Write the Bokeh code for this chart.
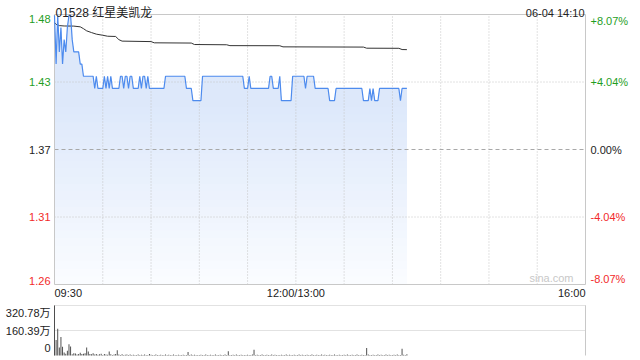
import numpy as np
from bokeh.plotting import figure
from bokeh.models import Range1d, Label
from bokeh.layouts import column
from bokeh.embed import file_html
from bokeh.resources import INLINE

# ---------------- data ----------------
title_text = "01528 红星美凯龙"
stamp_text = "06-04 14:10"
prev_close = 1.37
price_ticks = [1.4806, 1.4253, 1.37, 1.3147, 1.2594]
price_tick_labels = ["1.48", "1.43", "1.37", "1.31", "1.26"]
pct_tick_labels = ["+8.07%", "+4.04%", "0.00%", "-4.04%", "-8.07%"]
time_tick_minutes = [0, 150, 330]
time_tick_labels = ["09:30", "12:00/13:00", "16:00"]
grid_minutes = [30, 60, 90, 120, 150, 180, 210, 240, 270, 300]
vol_ticks = [320.78, 160.39, 0]
vol_tick_labels = ["320.78万", "160.39万", "0"]
watermark = "sina.com"

# last price per minute (09:30 onward)
price = [
    1.48, 1.44, 1.48, 1.45, 1.47, 1.44, 1.46, 1.45, 1.47, 1.48,
    1.48, 1.46, 1.45, 1.45, 1.45, 1.45, 1.44, 1.44, 1.43, 1.43,
    1.43, 1.43, 1.43, 1.43, 1.43, 1.42, 1.43, 1.42, 1.42, 1.42,
    1.42, 1.43, 1.42, 1.43, 1.42, 1.43, 1.42, 1.42, 1.42, 1.42,
    1.42, 1.43, 1.43, 1.42, 1.43, 1.43, 1.42, 1.43, 1.43, 1.42,
    1.42, 1.42, 1.42, 1.43, 1.42, 1.43, 1.43, 1.42, 1.43, 1.42,
    1.42, 1.42, 1.42, 1.42, 1.42, 1.42, 1.42, 1.42, 1.42, 1.43,
    1.43, 1.43, 1.43, 1.43, 1.43, 1.43, 1.43, 1.43, 1.43, 1.43,
    1.43, 1.43, 1.42, 1.42, 1.42, 1.42, 1.41, 1.41, 1.41, 1.41,
    1.41, 1.41, 1.43, 1.43, 1.43, 1.43, 1.43, 1.43, 1.43, 1.43,
    1.43, 1.43, 1.43, 1.43, 1.43, 1.43, 1.43, 1.43, 1.43, 1.43,
    1.43, 1.43, 1.43, 1.43, 1.43, 1.43, 1.43, 1.43, 1.42, 1.42,
    1.42, 1.43, 1.42, 1.42, 1.42, 1.42, 1.42, 1.42, 1.42, 1.42,
    1.42, 1.42, 1.42, 1.42, 1.43, 1.43, 1.42, 1.42, 1.42, 1.42,
    1.43, 1.41, 1.41, 1.41, 1.41, 1.41, 1.41, 1.41, 1.43, 1.43,
    1.43, 1.43, 1.43, 1.43, 1.43, 1.43, 1.42, 1.43, 1.43, 1.43,
    1.43, 1.43, 1.42, 1.42, 1.42, 1.42, 1.42, 1.42, 1.42, 1.42,
    1.42, 1.41, 1.41, 1.41, 1.41, 1.42, 1.42, 1.42, 1.42, 1.42,
    1.42, 1.42, 1.42, 1.42, 1.42, 1.42, 1.42, 1.42, 1.42, 1.42,
    1.42, 1.42, 1.41, 1.41, 1.41, 1.41, 1.42, 1.41, 1.42, 1.41,
    1.41, 1.41, 1.42, 1.42, 1.42, 1.42, 1.42, 1.42, 1.42, 1.42,
    1.42, 1.42, 1.42, 1.42, 1.42, 1.41, 1.42, 1.42, 1.42, 1.42,
]

# average price line, read at its turning points
avg_minutes = [0, 1, 3, 6, 12, 16, 18, 20, 23, 26, 30, 33, 38, 40, 42,
               60, 62, 85, 87, 107, 109, 140, 142, 192, 194, 214, 216, 219]
avg_values = [1.4740, 1.4725, 1.4715, 1.4712, 1.4711, 1.4705, 1.4690, 1.4672,
              1.4658, 1.4645, 1.4636, 1.4628, 1.4626, 1.4600, 1.4588, 1.4584,
              1.4574, 1.4572, 1.4560, 1.4558, 1.4551, 1.4550, 1.4541, 1.4539,
              1.4530, 1.4529, 1.4519, 1.4518]

# volume per minute, in 万 shares
volume = [
    320.78, 100, 172, 52, 118, 56, 20, 12, 30, 72,
    57, 8, 14, 13, 6, 10, 18, 9, 12, 14,
    52, 25, 10, 8, 14, 6, 10, 5, 8, 12,
    4, 9, 6, 5, 25, 8, 4, 6, 10, 33,
    6, 4, 8, 3, 5, 7, 4, 6, 3, 5,
    4, 3, 6, 4, 5, 3, 7, 4, 3, 10,
    5, 3, 4, 6, 3, 4, 5, 3, 4, 6,
    3, 5, 4, 3, 6, 4, 3, 5, 4, 3,
    5, 4, 3, 22, 4, 6, 3, 5, 4, 3,
    4, 5, 3, 4, 6, 3, 4, 5, 3, 4,
    6, 3, 4, 5, 3, 4, 6, 3, 28, 4,
    3, 5, 4, 6, 3, 4, 5, 3, 4, 3,
    5, 4, 3, 6, 37, 4, 5, 3, 4, 6,
    3, 4, 5, 3, 4, 6, 3, 5, 4, 3,
    4, 5, 3, 4, 6, 3, 5, 4, 3, 5,
    4, 3, 6, 4, 5, 3, 4, 5, 3, 4,
    6, 3, 4, 5, 3, 4, 6, 3, 5, 4,
    3, 5, 4, 3, 6, 4, 3, 5, 4, 3,
    5, 4, 6, 3, 4, 5, 3, 4, 6, 3,
    4, 5, 3, 4, 48, 6, 3, 4, 5, 3,
    4, 6, 3, 5, 4, 3, 6, 4, 5, 3,
    4, 5, 3, 6, 4, 3, 44, 5, 4, 8,
]

# ---------------- style ----------------
FONT = "'Liberation Sans', Arial, 'Noto Sans CJK SC', sans-serif"
GREEN = "#1f9e1f"
RED = "#f22a2a"
DARK = "#222222"
label_colors = [GREEN, GREEN, DARK, RED, RED]
BORDER = "#c8c8c8"
GRID = "#c4c4c4"
LINE_BLUE = "#4d8bee"

W = 640
PAD_L, PAD_R = 54, 55           # frame margins in px
P_H, P_TOP, P_BOT = 300, 14, 16  # price panel
V_H, V_TOP, V_BOT = 60, 5, 5     # volume panel

minutes = np.arange(len(price))
y_hi, y_lo = price_ticks[0], price_ticks[-1]
x_end = time_tick_minutes[-1]

ppx = (W - PAD_L - PAD_R) / x_end
x_rng = (-PAD_L / ppx, x_end + PAD_R / ppx)
ppy = (P_H - P_TOP - P_BOT) / (y_hi - y_lo)
y_rng = (y_lo - P_BOT / ppy, y_hi + P_TOP / ppy)
ppv = (V_H - V_TOP - V_BOT) / vol_ticks[0]
v_rng = (-V_BOT / ppv, vol_ticks[0] + V_TOP / ppv)


def make_fig(h, yr):
    f = figure(width=W, height=h, output_backend="svg", toolbar_location=None,
               x_axis_type=None, y_axis_type=None, title=None,
               x_range=Range1d(*x_rng), y_range=Range1d(*yr),
               min_border=0, min_border_left=0, min_border_right=0,
               min_border_top=0, min_border_bottom=0)
    f.outline_line_color = None
    f.background_fill_color = "white"
    f.border_fill_color = "white"
    f.xgrid.visible = False
    f.ygrid.visible = False
    return f


def lab(f, x, y, text, color=DARK, align="left", base="middle",
        dx=0, dy=0, size="11px"):
    f.add_layout(Label(x=x, y=y, text=text, x_offset=dx, y_offset=dy,
                       text_align=align, text_baseline=base, text_color=color,
                       text_font=FONT, text_font_size=size))


# ---------------- price panel ----------------
p = make_fig(P_H, y_rng)

# gradient-like fill under the price line: opaque bands, lighter towards bottom
top_rgb = np.array([218, 230, 250])
bot_rgb = np.array([250, 252, 255])
levels = np.linspace(y_lo, 1.405, 24)
for lvl in levels:
    f = (lvl - y_lo) / (y_hi - y_lo)
    c = bot_rgb + (top_rgb - bot_rgb) * min(1.0, f / 0.72)
    col = "#%02x%02x%02x" % tuple(int(round(k)) for k in c)
    p.varea(x=minutes, y1=lvl, y2=price, fill_color=col, fill_alpha=1.0)

p.segment(x0=grid_minutes, y0=y_lo, x1=grid_minutes, y1=y_hi,
          line_color=GRID, line_width=1, line_dash="1 2")
other = [t for t in price_ticks[1:-1] if t != prev_close]
p.segment(x0=0, y0=other, x1=x_end, y1=other, line_color=GRID,
          line_width=1, line_dash="1 2")
p.segment(x0=0, y0=prev_close, x1=x_end, y1=prev_close, line_color="#a8a8a8",
          line_width=1, line_dash="4 3")
p.quad(left=0, right=x_end, bottom=y_lo, top=y_hi, fill_color=None,
       line_color=BORDER, line_width=1)

p.line(avg_minutes, avg_values, line_color="#333333", line_width=1)
p.line(minutes, price, line_color=LINE_BLUE, line_width=1.2)

n = len(price_ticks)
for i, (t, tl, pl, c) in enumerate(zip(price_ticks, price_tick_labels,
                                        pct_tick_labels, label_colors)):
    base = "top" if i == 0 else ("bottom" if i == n - 1 else "middle")
    lab(p, 0, t, tl, c, "right", base, dx=-4)
    lab(p, x_end, t, pl, c, "left", base, dx=5)

for m, tl, al in zip(time_tick_minutes, time_tick_labels,
                     ["left", "center", "right"]):
    lab(p, m, y_lo, tl, DARK, al, "top", dy=-2)

lab(p, 0, y_hi, title_text, DARK, "left", "alphabetic", dx=1, dy=2, size="12px")
lab(p, x_end, y_hi, stamp_text, DARK, "right", "alphabetic", dx=-1, dy=2)
lab(p, x_end, y_lo, watermark, "#c8c8c8", "right", "bottom", dx=-12, dy=1)

# ---------------- volume panel ----------------
v = make_fig(V_H, v_rng)
v.segment(x0=0, y0=vol_ticks[:-1], x1=x_end, y1=vol_ticks[:-1],
          line_color=GRID, line_width=1, line_dash="1 1")
v.segment(x0=[0, x_end], y0=0, x1=[0, x_end], y1=vol_ticks[0],
          line_color=BORDER, line_width=1)
v.vbar(x=minutes, top=volume, bottom=0, width=0.6, fill_color="#4a4a4a",
       line_color=None)

nv = len(vol_ticks)
for i, (t, tl) in enumerate(zip(vol_ticks, vol_tick_labels)):
    base = "top" if i == 0 else ("bottom" if i == nv - 1 else "middle")
    off = -1 if i == 0 else (4 if i == nv - 1 else 0)
    lab(v, 0, t, tl, DARK, "right", base, dx=-4, dy=off)

layout = column(p, v, spacing=0)
open("out.html", "w").write(file_html(layout, INLINE))
